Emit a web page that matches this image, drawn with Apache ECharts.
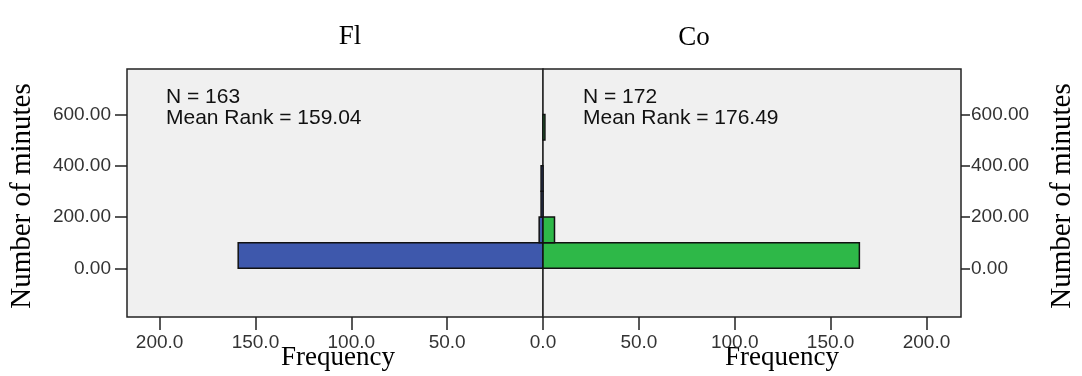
<!DOCTYPE html>
<html>
<head>
<meta charset="utf-8">
<script src="https://cdn.jsdelivr.net/npm/echarts@6/dist/echarts.min.js"></script>
<style>
  html, body { margin: 0; padding: 0; background: #ffffff; }
  #chart { width: 1082px; height: 376px; }
</style>
</head>
<body>
<div id="chart"></div>
<script>
// Histogram bins of "Number of minutes" (lower and upper edge of each bin)
const binLow  = [0, 100, 200, 300, 400, 500];
const binHigh = [100, 200, 300, 400, 500, 600];
// Frequency in each bin, per group
const flCounts = [159, 2, 1, 1, 0, 0];
const coCounts = [165, 6, 0, 0, 0, 1];
// Group names and summary statistics
const groups = ['Fl', 'Co'];
const groupN = [163, 172];
const meanRanks = [159.04, 176.49];
// Tick values
const freqTicks = [0, 50, 100, 150, 200];
const minuteTicks = [0, 200, 400, 600];

const BLUE = '#3E58AC';
const GREEN = '#2EB848';
const SANS = '"Liberation Sans", Arial, sans-serif';
const SERIF = '"Liberation Serif", "Times New Roman", serif';

function binData(counts) {
  return counts.map((c, i) => [c, binLow[i], binHigh[i]]);
}

function renderBin(params, api) {
  const count = api.value(0);
  if (!count) return null;
  const a = api.coord([0, api.value(1)]);
  const b = api.coord([count, api.value(2)]);
  return {
    type: 'rect',
    shape: {
      x: Math.min(a[0], b[0]),
      y: Math.min(a[1], b[1]),
      width: Math.abs(b[0] - a[0]),
      height: Math.abs(b[1] - a[1])
    },
    style: { fill: api.visual('color'), stroke: '#111', lineWidth: 1.5 }
  };
}

const gridBase = {
  top: 69, height: 248, show: true,
  backgroundColor: '#F0F0F0', borderColor: '#222', borderWidth: 1.5
};

function xAxisFor(idx, max, inverse, labelValues) {
  return {
    type: 'value', gridIndex: idx, position: 'bottom', min: 0, max: max, inverse: inverse,
    axisLine: { show: false, onZero: false },
    splitLine: { show: false },
    axisTick: { show: true, inside: false, length: 13, customValues: freqTicks,
                lineStyle: { color: '#222', width: 1.5 } },
    axisLabel: { customValues: labelValues, margin: 16, color: '#333',
                 fontFamily: SANS, fontSize: 19,
                 formatter: v => v.toFixed(1) }
  };
}

function yAxisFor(idx, position, tickLen, margin) {
  return {
    type: 'value', gridIndex: idx, position: position, min: -190, max: 777,
    axisLine: { show: false, onZero: false },
    splitLine: { show: false },
    axisTick: { show: true, inside: false, length: tickLen, customValues: minuteTicks,
                lineStyle: { color: '#222', width: 1.5 } },
    axisLabel: { customValues: minuteTicks, margin: margin, color: '#333',
                 fontFamily: SANS, fontSize: 19,
                 formatter: v => v.toFixed(2) }
  };
}

function statText(i) {
  return 'N = ' + groupN[i] + '\nMean Rank = ' + meanRanks[i].toFixed(2);
}

const chart = echarts.init(document.getElementById('chart'), null, { renderer: 'canvas' });

chart.setOption({
  animation: false,
  grid: [
    Object.assign({ left: 127, width: 416 }, gridBase),
    Object.assign({ left: 543, width: 418 }, gridBase)
  ],
  xAxis: [
    xAxisFor(0, 217, true, freqTicks.filter(v => v !== 0)),
    xAxisFor(1, 218, false, freqTicks)
  ],
  yAxis: [
    yAxisFor(0, 'left', 12, 16),
    yAxisFor(1, 'right', 9, 10)
  ],
  series: [
    {
      name: groups[0], type: 'custom', xAxisIndex: 0, yAxisIndex: 0,
      itemStyle: { color: BLUE }, renderItem: renderBin,
      encode: { x: 0, y: [1, 2] }, data: binData(flCounts)
    },
    {
      name: groups[1], type: 'custom', xAxisIndex: 1, yAxisIndex: 1,
      itemStyle: { color: GREEN }, renderItem: renderBin,
      encode: { x: 0, y: [1, 2] }, data: binData(coCounts)
    }
  ],
  graphic: [
    { type: 'text', x: 350, y: 37, style: { text: groups[0], font: '27px ' + SERIF, fill: '#000', textAlign: 'center', textVerticalAlign: 'middle' } },
    { type: 'text', x: 694, y: 38, style: { text: groups[1], font: '27px ' + SERIF, fill: '#000', textAlign: 'center', textVerticalAlign: 'middle' } },
    { type: 'text', x: 166, y: 87, style: { text: statText(0), font: '21px ' + SANS, lineHeight: 21, fill: '#111' } },
    { type: 'text', x: 583, y: 87, style: { text: statText(1), font: '21px ' + SANS, lineHeight: 21, fill: '#111' } },
    { type: 'text', x: 22, y: 196, rotation: Math.PI / 2, style: { text: 'Number of minutes', font: '29px ' + SERIF, fill: '#000', textAlign: 'center', textVerticalAlign: 'middle' } },
    { type: 'text', x: 1062, y: 196, rotation: Math.PI / 2, style: { text: 'Number of minutes', font: '29px ' + SERIF, fill: '#000', textAlign: 'center', textVerticalAlign: 'middle' } },
    { type: 'text', x: 338, y: 358, style: { text: 'Frequency', font: '27px ' + SERIF, fill: '#000', textAlign: 'center', textVerticalAlign: 'middle' } },
    { type: 'text', x: 782, y: 358, style: { text: 'Frequency', font: '27px ' + SERIF, fill: '#000', textAlign: 'center', textVerticalAlign: 'middle' } }
  ]
});
</script>
</body>
</html>
